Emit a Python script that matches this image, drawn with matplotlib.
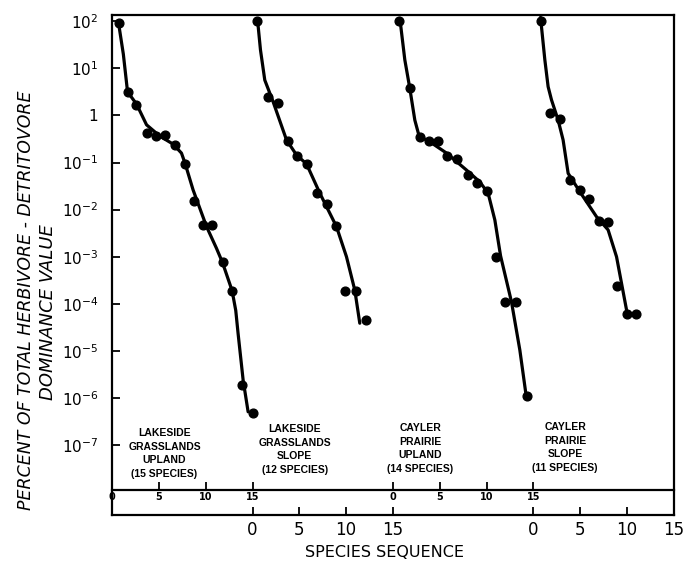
import numpy as np
import matplotlib
matplotlib.use('Agg')
import matplotlib.pyplot as plt
from matplotlib.ticker import NullLocator
import matplotlib.transforms as mtransforms

# === Data (species rank position, percent of total) ===
PANEL_NAMES = [
    "LAKESIDE\nGRASSLANDS\nUPLAND\n(15 SPECIES)",
    "LAKESIDE\nGRASSLANDS\nSLOPE\n(12 SPECIES)",
    "CAYLER\nPRAIRIE\nUPLAND\n(14 SPECIES)",
    "CAYLER\nPRAIRIE\nSLOPE\n(11 SPECIES)",
]

# Lakeside grasslands upland
lg_up_rank = [0.7, 1.7, 2.6, 3.7, 4.7, 5.6, 6.7, 7.8, 8.7, 9.7, 10.7, 11.8, 12.8, 13.9, 15.0]
lg_up_pct = [93, 3.2, 1.7, 0.42, 0.37, 0.38, 0.23, 0.095, 0.015, 0.0047, 0.0047,
             0.00076, 0.00019, 1.9e-6, 4.8e-7]

# Lakeside grasslands slope
lg_sl_rank = [0.5, 1.7, 2.7, 3.8, 4.8, 5.8, 6.9, 8.0, 8.9, 9.9, 11.1, 12.1]
lg_sl_pct = [100, 2.4, 1.8, 0.28, 0.14, 0.093, 0.023, 0.013, 0.0046, 0.00019,
             0.00019, 4.6e-5]

# Cayler prairie upland
cp_up_rank = [0.7, 1.8, 2.9, 3.9, 4.8, 5.8, 6.8, 8.0, 9.0, 10.0, 11.0, 12.0, 13.1, 14.3]
cp_up_pct = [100, 3.8, 0.34, 0.29, 0.28, 0.14, 0.12, 0.054, 0.037, 0.025, 0.001,
             0.00011, 0.00011, 1.1e-6]

# Cayler prairie slope
cp_sl_rank = [0.8, 1.8, 2.8, 3.9, 5.0, 6.0, 7.0, 8.0, 8.9, 10.0, 11.0]
cp_sl_pct = [100, 1.1, 0.83, 0.043, 0.026, 0.017, 0.0058, 0.0054, 0.00024, 6.0e-5, 6.0e-5]

# Hand-drawn fitted curves: (rank, log10 percent) waypoints
lg_up_curve_rank = [0.68, 1.2, 1.65, 2.61, 3.68, 5.1, 6.52, 7.41, 7.8, 8.65, 10.09,
                    11.15, 11.79, 12.82, 13.21, 13.46, 14.0, 14.53]
lg_up_curve_log = [1.97, 1.3, 0.5, 0.24, -0.2, -0.44, -0.61, -0.8, -1.02, -1.58, -2.36,
                   -2.82, -3.12, -3.72, -4.14, -4.63, -5.62, -6.29]

lg_sl_curve_rank = [0.53, 0.85, 1.31, 2.2, 3.63, 4.7, 5.77, 7.19, 8.97, 10.04, 10.93, 11.46]
lg_sl_curve_log = [2.04, 1.39, 0.75, 0.29, -0.52, -0.84, -1.03, -1.65, -2.36, -3.0, -3.71, -4.41]

cp_up_curve_rank = [0.74, 1.27, 1.8, 2.34, 2.8, 3.94, 5.73, 7.86, 9.28, 10.17, 10.89,
                    11.5, 12.67, 13.56, 14.2]
cp_up_curve_log = [2.06, 1.18, 0.58, -0.1, -0.44, -0.56, -0.8, -1.16, -1.41, -1.65, -2.22,
                   -2.98, -3.96, -4.98, -5.9]

cp_sl_curve_rank = [0.77, 1.23, 1.58, 1.94, 2.65, 3.18, 3.72, 4.97, 6.75, 7.99, 8.89, 9.96]
cp_sl_curve_log = [2.08, 1.18, 0.61, 0.33, -0.1, -0.52, -1.23, -1.62, -2.15, -2.43, -3.0, -4.13]

Y_EXP = [2, 1, 0, -1, -2, -3, -4, -5, -6, -7]
Y_LABELS = ['$10^{2}$', '$10^{1}$', '1', '$10^{-1}$', '$10^{-2}$', '$10^{-3}$',
            '$10^{-4}$', '$10^{-5}$', '$10^{-6}$', '$10^{-7}$']
SEQ_LABELS = ['0', '5', '10', '15']

# === Layout ===
PANEL_SHIFT = 15
LABEL_X = [5.6, 4.5, 2.9, 3.4]
LABEL_TOP = [0.174, 0.182, 0.184, 0.186]   # axes fraction (scan is slightly skewed)

points = [(lg_up_rank, lg_up_pct), (lg_sl_rank, lg_sl_pct),
          (cp_up_rank, cp_up_pct), (cp_sl_rank, cp_sl_pct)]
curves = [(lg_up_curve_rank, lg_up_curve_log), (lg_sl_curve_rank, lg_sl_curve_log),
          (cp_up_curve_rank, cp_up_curve_log), (cp_sl_curve_rank, cp_sl_curve_log)]

plt.rcParams['font.family'] = ['DejaVu Sans']

fig = plt.figure(figsize=(6.92, 5.67), dpi=100)
ax = fig.add_axes([0.162, 0.0917, 0.8116, 0.8818])
trans = mtransforms.blended_transform_factory(ax.transData, ax.transAxes)

for i, ((rk, pct), (crk, clog)) in enumerate(zip(points, curves)):
    shift = i * PANEL_SHIFT
    ax.plot(np.array(crk) + shift, 10.0 ** np.array(clog), color='black', lw=2.3,
            solid_capstyle='round', solid_joinstyle='round', zorder=2)
    ax.plot(np.array(rk) + shift, pct, 'o', color='black', ms=6.3, zorder=3)
    ax.text(shift + LABEL_X[i], LABEL_TOP[i], PANEL_NAMES[i], transform=trans,
            ha='center', va='top', fontsize=7.5, fontweight='bold',
            family='Liberation Sans', linespacing=1.45)

ax.set_yscale('log')
ax.set_ylim(10 ** -8.48, 10 ** 2.13)
ax.set_xlim(0, 60)
ax.set_yticks([10.0 ** k for k in Y_EXP], labels=Y_LABELS)
ax.yaxis.set_minor_locator(NullLocator())
ax.tick_params(axis='y', direction='in', length=6, width=1.3, pad=10, labelsize=11)

# outer sequence axis: panels 2 and 4
outer_ticks = [PANEL_SHIFT + 5 * k for k in range(4)] + [3 * PANEL_SHIFT + 5 * k for k in range(4)]
ax.set_xticks(outer_ticks, labels=SEQ_LABELS * 2)
ax.xaxis.set_minor_locator(NullLocator())
ax.tick_params(axis='x', direction='in', length=6, width=1.3, pad=4, labelsize=12)

for sp in ax.spines.values():
    sp.set_linewidth(1.6)

# inner sequence axis: panels 1 and 3
sec = ax.secondary_xaxis(0.051)
inner_ticks = [5 * k for k in range(4)] + [2 * PANEL_SHIFT + 5 * k for k in range(4)]
sec.set_xticks(inner_ticks, labels=SEQ_LABELS * 2)
sec.xaxis.set_minor_locator(NullLocator())
sec.tick_params(direction='in', length=6, width=1.3, pad=2, labelsize=7)
for lab in sec.get_xticklabels():
    lab.set_fontweight('bold')
sec.spines['bottom'].set_linewidth(1.6)

fig.text(0.0376, 0.47, 'PERCENT OF TOTAL HERBIVORE - DETRITOVORE', rotation=90,
         style='italic', fontsize=12.5, ha='center', va='center')
fig.text(0.069, 0.45, 'DOMINANCE VALUE', rotation=90,
         style='italic', fontsize=13, ha='center', va='center')
fig.text(0.555, 0.0247, 'SPECIES SEQUENCE', fontsize=11.5, ha='center', va='center')

fig.savefig('out.png', dpi=100)
